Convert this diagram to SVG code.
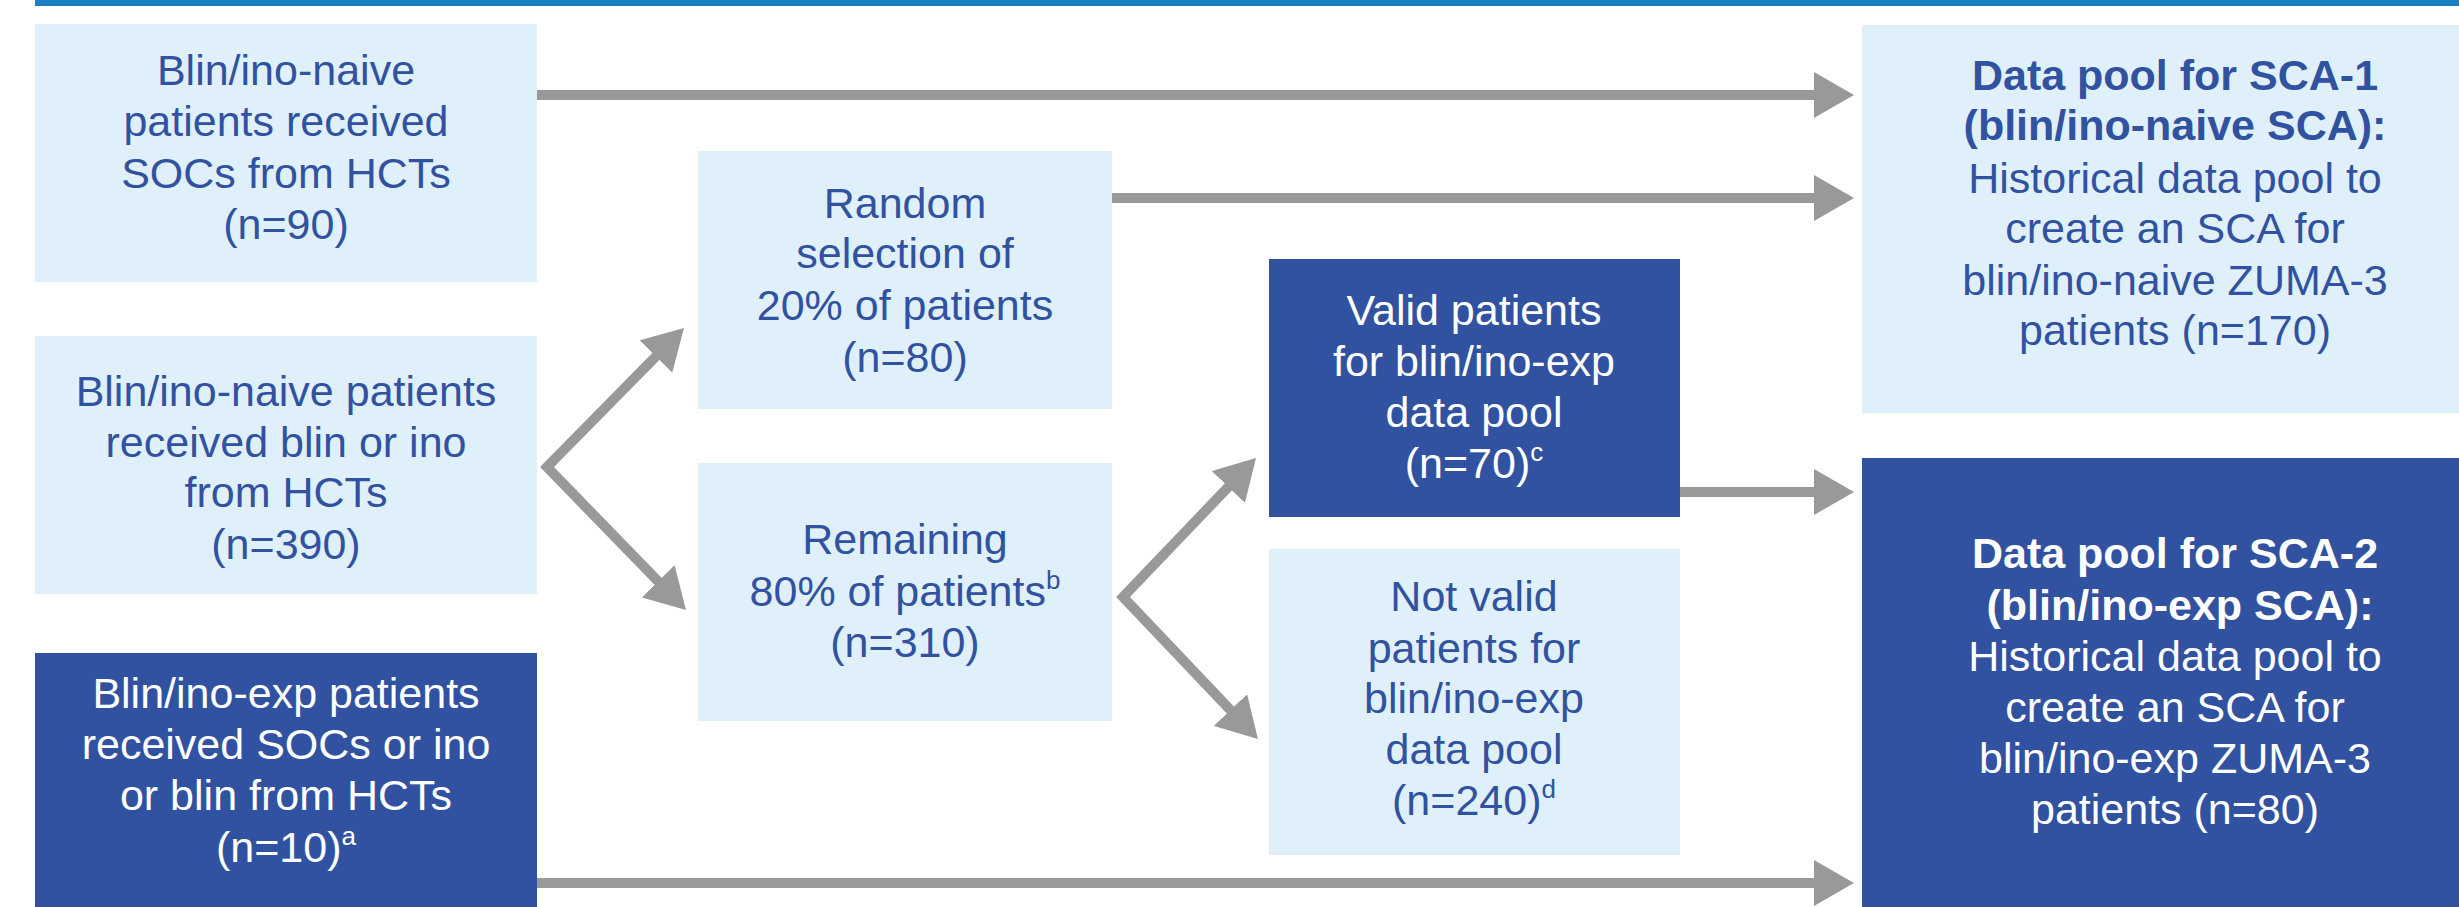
<svg xmlns="http://www.w3.org/2000/svg" width="2459" height="907" viewBox="0 0 2459 907">
<style>
text{font-family:"Liberation Sans",Arial,sans-serif;font-size:43px;text-anchor:middle}
.lt rect{fill:#dff0fb}
.lt text{fill:#3152a0}
.dk rect{fill:#3152a0}
.dk text{fill:#ffffff}
.b{font-weight:bold}
.sup{font-size:26px}
.conn{stroke:#999999;stroke-width:10;fill:none;marker-end:url(#ah)}
.chev{stroke:#999999;stroke-width:10;fill:none;stroke-linejoin:miter;marker-start:url(#ahs);marker-end:url(#ah)}
</style>
<defs>
<marker id="ah" viewBox="0 0 40 46" markerWidth="40" markerHeight="46" refX="2" refY="23" orient="auto" markerUnits="userSpaceOnUse"><path d="M0,0 L40,23 L0,46 Z" fill="#999999"/></marker>
<marker id="ahs" viewBox="0 0 40 46" markerWidth="40" markerHeight="46" refX="2" refY="23" orient="auto-start-reverse" markerUnits="userSpaceOnUse"><path d="M0,0 L40,23 L0,46 Z" fill="#999999"/></marker>
</defs>
<rect x="35" y="0" width="2424" height="6" fill="#1b80c4"/>
<g id="connectors">
<line class="conn" x1="537" y1="95" x2="1816" y2="95"/>
<line class="conn" x1="1112" y1="198" x2="1816" y2="198"/>
<line class="conn" x1="1680" y1="492" x2="1816" y2="492"/>
<line class="conn" x1="537" y1="883" x2="1816" y2="883"/>
<polyline class="chev" points="657.3,355.1 547,467 659.5,582.8"/>
<polyline class="chev" points="1229.7,485.5 1123,597 1231.8,711.5"/>
</g>
<g id="n-soc-naive" class="lt">
<rect x="35" y="24" width="502" height="258"/>
<text x="286" y="85">Blin/ino-naive</text>
<text x="286" y="136">patients received</text>
<text x="286" y="188">SOCs from HCTs</text>
<text x="286" y="239">(n=90)</text>
</g>
<g id="n-blin-naive" class="lt">
<rect x="35" y="336" width="502" height="258"/>
<text x="286" y="406">Blin/ino-naive patients</text>
<text x="286" y="457">received blin or ino</text>
<text x="286" y="507">from HCTs</text>
<text x="286" y="559">(n=390)</text>
</g>
<g id="n-exp" class="dk">
<rect x="35" y="653" width="502" height="254"/>
<text x="286" y="708">Blin/ino-exp patients</text>
<text x="286" y="759">received SOCs or ino</text>
<text x="286" y="810">or blin from HCTs</text>
<text x="286" y="862">(n=10)<tspan class="sup" dy="-17">a</tspan></text>
</g>
<g id="n-random" class="lt">
<rect x="698" y="151" width="414" height="258"/>
<text x="905" y="218">Random</text>
<text x="905" y="268">selection of</text>
<text x="905" y="320">20% of patients</text>
<text x="905" y="372">(n=80)</text>
</g>
<g id="n-remaining" class="lt">
<rect x="698" y="463" width="414" height="258"/>
<text x="905" y="554">Remaining</text>
<text x="905" y="606">80% of patients<tspan class="sup" dy="-17">b</tspan></text>
<text x="905" y="657">(n=310)</text>
</g>
<g id="n-valid" class="dk">
<rect x="1269" y="259" width="411" height="258"/>
<text x="1474" y="325">Valid patients</text>
<text x="1474" y="376">for blin/ino-exp</text>
<text x="1474" y="427">data pool</text>
<text x="1474" y="478">(n=70)<tspan class="sup" dy="-17">c</tspan></text>
</g>
<g id="n-notvalid" class="lt">
<rect x="1269" y="549" width="411" height="306"/>
<text x="1474" y="611">Not valid</text>
<text x="1474" y="663">patients for</text>
<text x="1474" y="713">blin/ino-exp</text>
<text x="1474" y="764">data pool</text>
<text x="1474" y="815">(n=240)<tspan class="sup" dy="-17">d</tspan></text>
</g>
<g id="n-sca1" class="lt">
<rect x="1862" y="25" width="597" height="388"/>
<text class="b" x="2175" y="90">Data pool for SCA-1</text>
<text class="b" x="2175" y="140">(blin/ino-naive SCA):</text>
<text x="2175" y="193">Historical data pool to</text>
<text x="2175" y="243">create an SCA for</text>
<text x="2175" y="295">blin/ino-naive ZUMA-3</text>
<text x="2175" y="345">patients (n=170)</text>
</g>
<g id="n-sca2" class="dk">
<rect x="1862" y="458" width="597" height="449"/>
<text class="b" x="2175" y="568">Data pool for SCA-2</text>
<text class="b" x="2180" y="620">(blin/ino-exp SCA):</text>
<text x="2175" y="671">Historical data pool to</text>
<text x="2175" y="722">create an SCA for</text>
<text x="2175" y="773">blin/ino-exp ZUMA-3</text>
<text x="2175" y="824">patients (n=80)</text>
</g>
</svg>
